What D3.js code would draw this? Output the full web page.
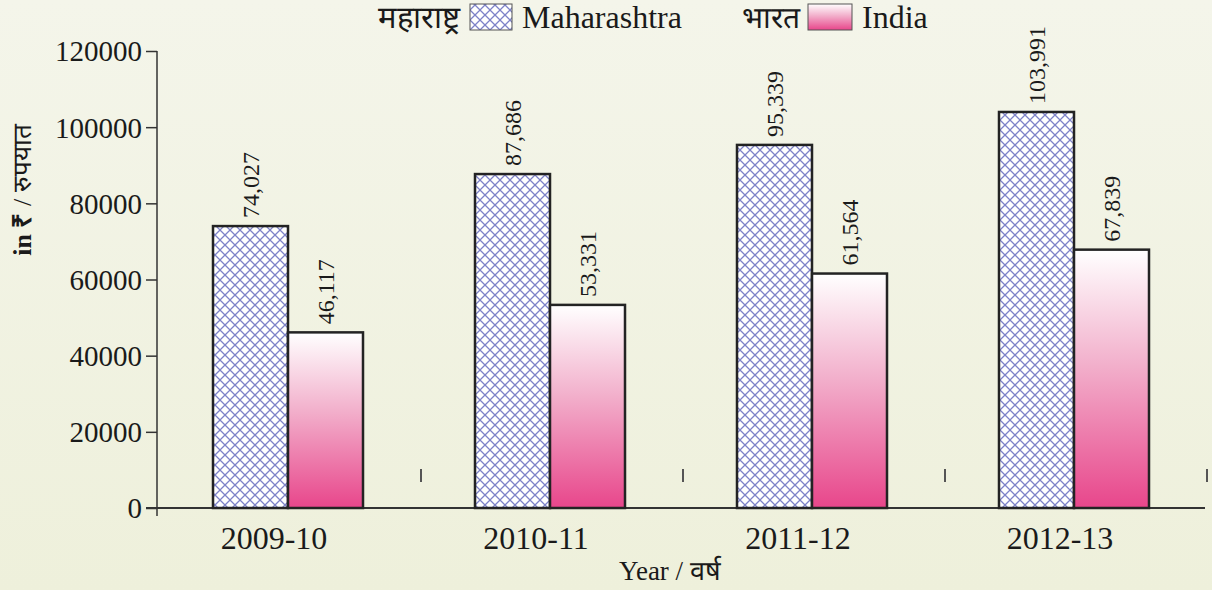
<!DOCTYPE html>
<html><head><meta charset="utf-8">
<script src="https://cdn.jsdelivr.net/npm/d3@7"></script>
<style>
html,body{margin:0;padding:0;background:#f1f2e3;}
</style></head>
<body>
<svg id="chart" width="1212" height="590"></svg>
<script>
const categories = ["2009-10","2010-11","2011-12","2012-13"];
const maharashtra = [74027, 87686, 95339, 103991];
const india = [46117, 53331, 61564, 67839];
const yTicks = [0,20000,40000,60000,80000,100000,120000];
const seriesNames = [["महाराष्ट्र","Maharashtra"],["भारत","India"]];

const FONT = "Liberation Serif, Times New Roman, serif";
const svg = d3.select("#chart").attr("font-family", FONT);
const W = 1212, H = 590;
const defs = svg.append("defs");

const bg = defs.append("linearGradient").attr("id","bg").attr("x1",0).attr("y1",0).attr("x2",0).attr("y2",1);
bg.append("stop").attr("offset","0%").attr("stop-color","#f4f5ea");
bg.append("stop").attr("offset","100%").attr("stop-color","#eef0db");
svg.append("rect").attr("width",W).attr("height",H).attr("fill","url(#bg)");

const pat = defs.append("pattern").attr("id","hatch").attr("patternUnits","userSpaceOnUse")
  .attr("width",10).attr("height",10);
pat.append("rect").attr("width",10).attr("height",10).attr("fill","#ffffff");
pat.append("path").attr("d","M-1,-1 L11,11 M-1,11 L11,-1").attr("stroke","#7d82c8").attr("stroke-width",1.3).attr("fill","none");

const pg = defs.append("linearGradient").attr("id","pink").attr("x1",0).attr("y1",0).attr("x2",0).attr("y2",1);
pg.append("stop").attr("offset","0%").attr("stop-color","#ffffff");
pg.append("stop").attr("offset","45%").attr("stop-color","#f2afcb");
pg.append("stop").attr("offset","100%").attr("stop-color","#e8468b");

const x0 = 157, x1 = 1205, yBase = 508, yTop = 51;
const x = d3.scaleBand().domain(categories).range([x0, x1]).padding(0);
const y = d3.scaleLinear().domain([0,120000]).range([yBase, yTop]);
const barW = 75;

function txt(sel){ return sel.attr("font-family", FONT).attr("fill","#1a1a1a"); }

// y axis
const yAxis = d3.axisLeft(y).tickValues(yTicks).tickSize(11).tickPadding(4).tickFormat(d3.format("d"));
const ya = svg.append("g").attr("transform",`translate(${x0},0)`).call(yAxis);
ya.attr("font-family", FONT);
ya.select(".domain").remove();
ya.selectAll(".tick line").attr("stroke","#333").attr("stroke-width",1.5);
txt(ya.selectAll(".tick text")).attr("font-size",29).attr("dy","0.34em");
svg.append("line").attr("x1",x0).attr("x2",x0).attr("y1",yTop).attr("y2",yBase+8)
  .attr("stroke","#333").attr("stroke-width",1.5);

// x axis baseline
svg.append("line").attr("x1",146).attr("x2",x1).attr("y1",yBase).attr("y2",yBase)
  .attr("stroke","#333").attr("stroke-width",1.8);

// separator ticks
svg.selectAll(".sep").data(categories).enter().append("line")
  .attr("x1",d=>x(d)+x.bandwidth()+2).attr("x2",d=>x(d)+x.bandwidth()+2)
  .attr("y1",469).attr("y2",482).attr("stroke","#555").attr("stroke-width",2);

const cx = d => x(d) + x.bandwidth()/2;

// bars
const g = svg.append("g");
g.selectAll(".m").data(categories).enter().append("rect")
  .attr("x",(d)=>cx(d)-barW).attr("width",barW)
  .attr("y",(d,i)=>y(maharashtra[i])).attr("height",(d,i)=>yBase-y(maharashtra[i]))
  .attr("fill","url(#hatch)").attr("stroke","#232323").attr("stroke-width",2.5);
g.selectAll(".i").data(categories).enter().append("rect")
  .attr("x",(d)=>cx(d)).attr("width",barW)
  .attr("y",(d,i)=>y(india[i])).attr("height",(d,i)=>yBase-y(india[i]))
  .attr("fill","url(#pink)").attr("stroke","#232323").attr("stroke-width",2.5);

// value labels
const fmt = d3.format(",");
function vlab(vals, off){
  txt(svg.selectAll(null).data(categories).enter().append("text"))
    .attr("transform",(d,i)=>`translate(${cx(d)+off+8},${y(vals[i])-8}) rotate(-90)`)
    .attr("font-size",24).attr("text-anchor","start")
    .text((d,i)=>fmt(vals[i]));
}
vlab(maharashtra, -barW/2);
vlab(india, barW/2);

// category labels
txt(svg.selectAll(".cat").data(categories).enter().append("text"))
  .attr("x",d=>cx(d)-14).attr("y",549).attr("text-anchor","middle").attr("font-size",32)
  .text(d=>d);

// x title
txt(svg.append("text")).attr("x",670).attr("y",580).attr("text-anchor","middle").attr("font-size",27)
  .text("Year / वर्ष");

// y title
const yt = txt(svg.append("text")).attr("transform","translate(31,190) rotate(-90)")
  .attr("text-anchor","middle").attr("font-size",26);
yt.append("tspan").attr("font-weight","bold").text("in ₹");
yt.append("tspan").text(" / रुपयात");

// legend
const leg = svg.append("g");
txt(leg.append("text")).attr("x",460).attr("y",28).attr("text-anchor","end").attr("font-size",31).text(seriesNames[0][0]);
leg.append("rect").attr("x",470).attr("y",4).attr("width",42).attr("height",26).attr("fill","url(#hatch)").attr("stroke","#555").attr("stroke-width",1);
txt(leg.append("text")).attr("x",522).attr("y",28).attr("font-size",32).text(seriesNames[0][1]);
txt(leg.append("text")).attr("x",800).attr("y",28).attr("text-anchor","end").attr("font-size",30).text(seriesNames[1][0]);
leg.append("rect").attr("x",808).attr("y",4).attr("width",44).attr("height",26).attr("fill","url(#pink)").attr("stroke","#555").attr("stroke-width",1);
txt(leg.append("text")).attr("x",862).attr("y",28).attr("font-size",32).text(seriesNames[1][1]);
</script>
</body></html>
